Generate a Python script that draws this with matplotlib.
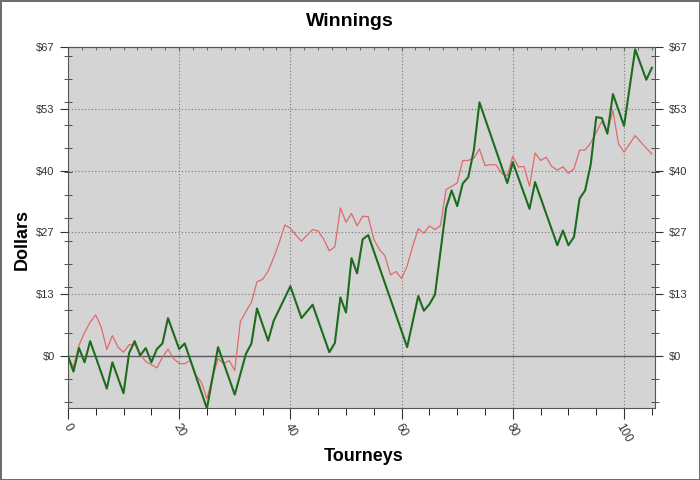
import matplotlib
matplotlib.use("Agg")
import matplotlib.pyplot as plt
from matplotlib.ticker import MultipleLocator, FixedLocator

plt.rcParams['font.family'] = ['Liberation Sans', 'DejaVu Sans']

# red line: one value per tourney
red_x = list(range(0, 106))
red_y = [0, -2.5, 2.3, 5.1, 7.3, 8.9, 6.2, 1.4, 4.4, 1.9,
         0.8, 2.4, 2.5, 0.3, -1.2, -1.9, -2.6, -0.3, 1.5, -0.6,
         -1.6, -1.7, -1.0, -4.2, -5.7, -9.3, -4.6, -0.6, -1.7, -1.0,
         -3.2, 7.4, 9.6, 11.6, 16.1, 16.6, 18.4, 21.3, 24.6, 28.4,
         27.7, 26.2, 24.9, 26.2, 27.4, 27.1, 25.3, 22.8, 23.7, 32.1,
         29.0, 30.9, 28.2, 30.3, 30.2, 25.3, 23.1, 21.7, 17.6, 18.3,
         16.8, 19.5, 23.8, 27.6, 26.6, 28.2, 27.4, 28.3, 36.1, 36.8,
         37.5, 42.4, 42.4, 42.9, 44.9, 41.3, 41.5, 41.4, 39.6, 39.1,
         43.3, 41.0, 41.1, 36.8, 44.0, 42.4, 43.1, 41.1, 40.3, 41.0,
         39.6, 40.6, 44.6, 44.7, 46.2, 48.5, 50.9, 48.5, 53.2, 46.0,
         44.2, 46.0, 47.8, 46.4, 45.1, 43.8]

# green line: turning points
green_x = [0, 1, 2, 3, 4, 7, 8, 10, 11, 12, 13, 14, 15, 16, 17, 18, 20, 21,
           25, 27, 30, 32, 33, 34, 36, 37, 40, 42, 44, 47, 48, 49, 50, 51,
           52, 53, 54, 61, 63, 64, 65, 66, 68, 69, 70, 71, 72, 73, 74, 79,
           80, 83, 84, 88, 89, 90, 91, 92, 93, 94, 95, 96, 97, 98, 100, 102,
           104, 105]
green_y = [0, -3.4, 1.7, -1.4, 3.2, -7.1, -1.4, -8.1, 0.6, 3.2, 0.1, 1.7, -1.4,
           1.5, 2.7, 8.2, 1.5, 2.7, -11.4, 1.9, -8.4, 0.4, 2.7, 10.3, 3.3, 7.6,
           15.1, 8.2, 11.1, 0.8, 2.8, 12.7, 9.4, 21.2, 17.9, 25.3, 26.2, 1.9,
           13.0, 9.8, 11.2, 13.3, 32.1, 35.9, 32.5, 37.4, 38.8, 44.7, 55.0,
           37.5, 42.0, 31.9, 37.7, 24.0, 27.2, 24.0, 25.8, 34.1, 35.9, 41.5,
           51.8, 51.6, 48.2, 56.8, 49.9, 66.5, 59.9, 62.5]

y_ticks = [0, 13.4, 26.8, 40.2, 53.6, 67]
y_labels = ['$0', '$13', '$27', '$40', '$53', '$67']

fig = plt.figure(figsize=(7, 4.8), dpi=100, edgecolor='#6e6e6e', linewidth=2)
ax = fig.add_axes([0.097, 0.15, 0.839, 0.752])
ax.set_facecolor('#d4d4d4')

ax.axhline(0, color='#5a5a5a', lw=1.0, zorder=1)
ax.plot(red_x, red_y, color='#e06a6a', lw=0.9, zorder=2)
ax.plot(green_x, green_y, color='#1d6b1d', lw=1.5, zorder=3)

ax.set_xlim(0, 105.6)
ax.set_ylim(-11.3, 67)

ax.xaxis.set_major_locator(MultipleLocator(20))
ax.xaxis.set_minor_locator(MultipleLocator(5))
ax.yaxis.set_major_locator(FixedLocator(y_ticks))
ax.yaxis.set_minor_locator(MultipleLocator(5))
ax.set_yticklabels(y_labels)

ax.grid(True, which='major', color='#777777', ls=(0, (1, 2)), lw=0.8)
ax.set_axisbelow(True)

ax.tick_params(axis='y', which='both', left=True, right=True,
               labelleft=True, labelright=True, labelsize=8, colors='#333333')
ax.tick_params(axis='y', which='major', direction='out', length=6)
ax.tick_params(axis='y', which='minor', direction='inout', length=6)
ax.tick_params(axis='x', which='major', direction='out', length=8, labelsize=8.5,
               colors='#333333', pad=2)
ax.tick_params(axis='x', which='minor', direction='out', length=5)

# small inward ticks along the top edge
top = ax.secondary_xaxis('top')
top.xaxis.set_major_locator(MultipleLocator(20))
top.xaxis.set_minor_locator(MultipleLocator(2.5))
top.tick_params(which='both', direction='in', length=2.5, labeltop=False, colors='#555555')
top.spines['top'].set_color('#555555')

for lbl in ax.get_xticklabels():
    lbl.set_rotation(-60)
    lbl.set_ha('center')

for s in ax.spines.values():
    s.set_color('#555555')

fig.text(0.5, 0.955, 'Winnings', ha='center', va='center', fontsize=14, fontweight='bold')
fig.text(0.519, 0.048, 'Tourneys', ha='center', va='center', fontsize=13, fontweight='bold')
fig.text(0.032, 0.5, 'Dollars', ha='center', va='center', rotation=90,
         fontsize=13, fontweight='bold')

fig.savefig('out.png', dpi=100, edgecolor=fig.get_edgecolor())
